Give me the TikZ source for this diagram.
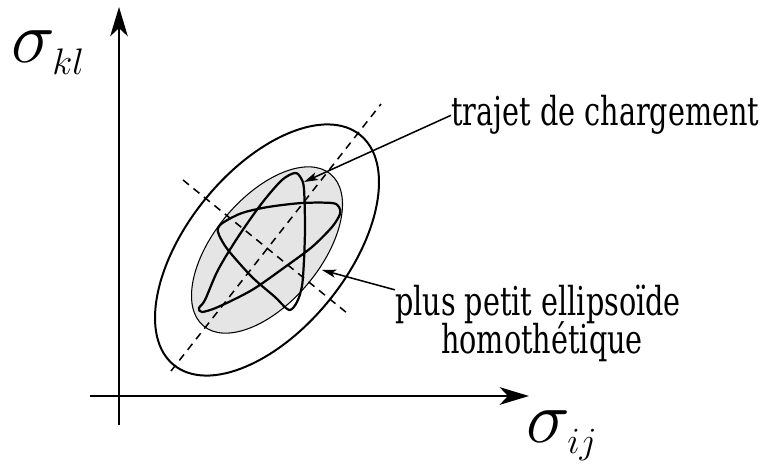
\RequirePackage{fix-cm}
\documentclass[tikz,border=0pt]{standalone}
\usepackage{fontspec}
\newfontfamily\labelfont[FakeStretch=0.72]{DejaVu Serif}
\usetikzlibrary{arrows.meta}

\begin{document}
\begin{tikzpicture}[
    x=0.03cm, y=0.03cm,
    axis/.style={-{Stealth[length=25pt,width=15pt,inset=7pt]}, line width=1.9pt},
    pointer/.style={-{Stealth[length=12pt,width=7pt,inset=3pt]}, line width=1.3pt},
    crit/.style={line width=1.7pt},
    homot/.style={draw, line width=0.9pt, fill=gray!20},
    axe/.style={line width=1.3pt, dash pattern=on 6.5pt off 5pt},
    chemin/.style={line width=1.9pt, line join=round},
    txt/.style={inner sep=0pt, font=\labelfont\fontsize{34}{38}\selectfont},
    sig/.style={inner sep=0pt, font=\fontsize{63}{70}\selectfont}
]
\useasboundingbox (0,0) rectangle (761,468);

% repere des contraintes
\coordinate (ybas) at (119,43);
\coordinate (yhaut) at (119,461);
\coordinate (xgauche) at (90,72);
\coordinate (xdroite) at (529,72);
\draw[axis] (ybas) -- (yhaut);
\draw[axis] (xgauche) -- (xdroite);
\node[sig, anchor=base west] (skl) at (11,405) {$\sigma_{\scriptscriptstyle kl}$};
\node[sig, anchor=base west] (sij) at (526,26) {$\sigma_{\scriptscriptstyle ij}$};

% plus petit ellipsoide homothetique
\coordinate (C) at (267,218);
\draw[homot, rotate around={50:(C)}] (C) ellipse [x radius=99, y radius=53];

% axes de l'ellipse
\coordinate (a1) at (171,97);
\coordinate (a2) at (381,364);
\coordinate (b1) at (183,288);
\coordinate (b2) at (347,155);
\draw[axe] (a1) -- (a2);
\draw[axe] (b1) -- (b2);

% trajet de chargement (spline fermee)
\draw[chemin] plot[smooth cycle, tension=0.5] coordinates {
    (295,295) (301,290) (304,279) (305,241) (304,208) (302,182) (297,166) (289,158)
    (275,171) (252,191) (228,218) (219,233) (218,240) (224,246)
    (242,255) (268,261) (302,265) (332,265) (339,261) (340,254)
    (332,241) (312,221) (285,201) (252,178) (218,161) (202,156) (199,160)
    (205,168) (218,198) (238,231) (262,265) (282,288)};

% critere
\draw[crit, rotate around={51:(C)}] (C) ellipse [x radius=148, y radius=80];

% legendes
\node[txt, anchor=base west] (trajet) at (451,342) {trajet de chargement};
\node[txt, anchor=base] (petit) at (538,153) {plus petit ellipsoïde};
\node[txt, anchor=base] (homo) at (542,115) {homothétique};
\coordinate (hit) at (304,286);
\coordinate (bord) at (322,198);
\draw[pointer] (trajet.west) -- (hit);
\draw[pointer] ([yshift=12pt]petit.west) -- (bord);
\end{tikzpicture}
\end{document}
